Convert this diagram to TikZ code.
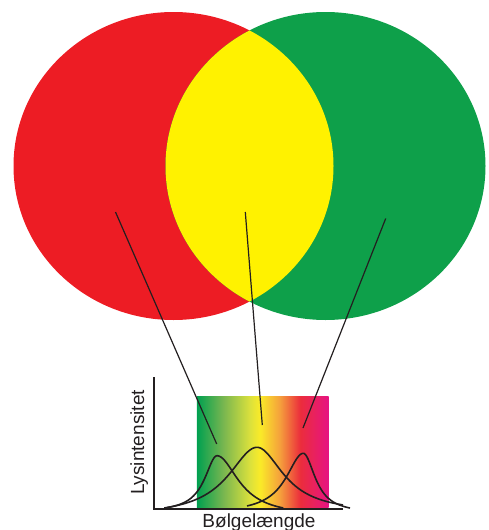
\documentclass[tikz,border=0pt]{standalone}
\usepackage{fontspec}
\setmainfont{Liberation Sans}
\definecolor{cred}{RGB}{237,28,36}
\definecolor{cgreen}{RGB}{14,160,74}
\definecolor{cyellow}{RGB}{255,242,0}
\definecolor{ink}{RGB}{35,31,32}
\definecolor{sg0}{RGB}{0,160,80}
\definecolor{sg1}{RGB}{120,182,80}
\definecolor{sg2}{RGB}{220,225,60}
\definecolor{sg3}{RGB}{250,235,40}
\definecolor{sg4}{RGB}{245,160,60}
\definecolor{sg5}{RGB}{235,45,60}
\definecolor{sg6}{RGB}{230,20,130}
\pgfdeclarehorizontalshading{spectrum}{100bp}{color(0bp)=(sg0); color(25bp)=(sg0); color(35bp)=(sg1); color(45.25bp)=(sg2); color(49bp)=(sg3); color(56.5bp)=(sg4); color(64.25bp)=(sg5); color(75bp)=(sg6); color(100bp)=(sg6)}
\begin{document}
\begin{tikzpicture}[x=1pt,y=-1pt,
  declare function={lor(\x,\c,\w,\e)=(1/(1+((\x-\c)/\w)^2)-\e)/(1-\e);},
  axisline/.style={draw=ink,line width=2pt},
  curveline/.style={draw=ink,line width=1.6pt,line join=round},
  pointer/.style={draw=ink,line width=1.2pt},
  lbl/.style={font=\fontsize{19}{22}\selectfont,text=ink,inner sep=0pt}]
\useasboundingbox (0,0) rectangle (489,530);
% circles
\fill[cred] (173.5,166) ellipse [x radius=160pt, y radius=154pt];
\fill[cgreen] (325.5,166) ellipse [x radius=160pt, y radius=154pt];
\begin{scope}
  \clip (173.5,166) ellipse [x radius=160pt, y radius=154pt];
  \fill[cyellow] (325.5,166) ellipse [x radius=160pt, y radius=154pt];
\end{scope}
% spectrum box
\node[inner sep=0pt, minimum width=131.6pt, minimum height=111.3pt, shading=spectrum, anchor=south west] (spec) at (196.7,508) {};
% axes
\coordinate (origin) at (154.3,509);
\coordinate (ytop) at (154.3,377);
\coordinate (xend) at (343,509);
\draw[axisline] (ytop) -- (origin) -- (xend);
% curves
\draw[curveline] plot[domain=164.3:217, samples=60] (\x,{508-52.3*lor(\x,217,15,0.075)})
  -- plot[domain=217:283.3, samples=60] (\x,{508-52.3*lor(\x,217,26,0.133)});
\draw[curveline] plot[domain=164.3:257, samples=70] (\x,{508-60.7*lor(\x,257,35,0.125)})
  -- plot[domain=257:343, samples=70] (\x,{508-60.7*lor(\x,257,32,0.075)});
\draw[curveline] plot[domain=247:303.3, samples=60] (\x,{508-54.7*lor(\x,303.3,21,0.088)})
  -- plot[domain=303.3:350, samples=60] (\x,{508-54.7*lor(\x,303.3,14.5,0.088)});
% pointers
\coordinate (pr) at (115.5,212);
\coordinate (py) at (245.3,212);
\coordinate (pg) at (385.7,218.5);
\coordinate (er) at (216.7,444);
\coordinate (ey) at (262.3,425);
\coordinate (eg) at (303,428);
\draw[pointer] (pr) -- (er);
\draw[pointer] (py) -- (ey);
\draw[pointer] (pg) -- (eg);
% labels
\node[lbl, anchor=base] (xlab) at (259,527) {Bølgelængde};
\node[lbl, anchor=base, rotate=90] (ylab) at (144,442.5) {Lysintensitet};
\end{tikzpicture}
\end{document}
